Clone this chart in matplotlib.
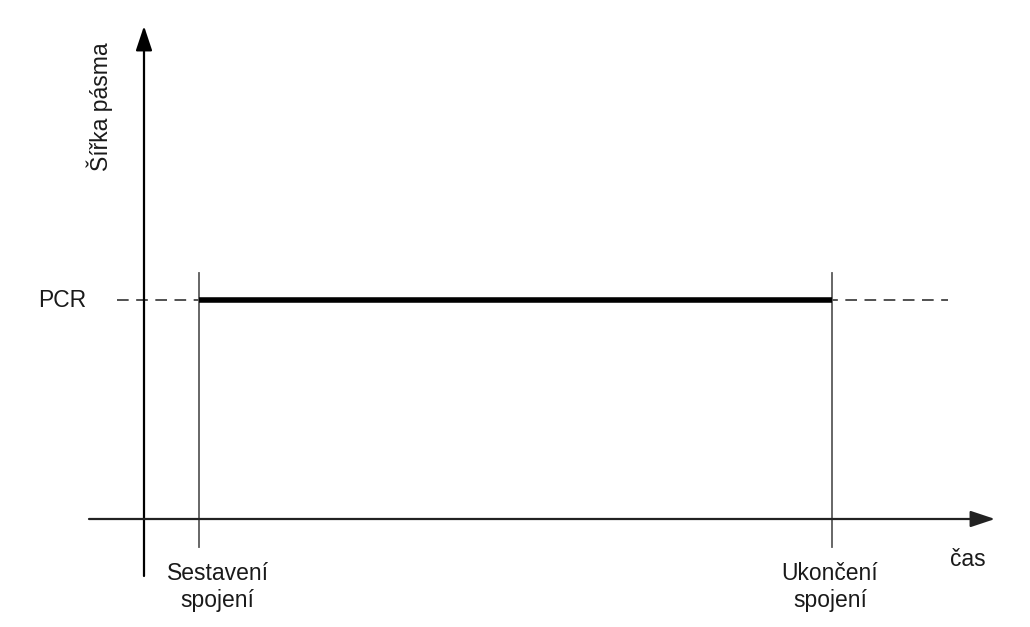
import matplotlib
matplotlib.use("Agg")
import matplotlib.pyplot as plt

# ---- data ----
events = ["Sestavení\nspojení", "Ukončení\nspojení"]
event_times = [1.0, 12.5]          # time units
pcr_level = 1.0                     # bandwidth units
level_label = "PCR"
x_label = "čas"
y_label = "Šířka pásma"

plt.rcParams['font.family'] = ['Liberation Sans', 'DejaVu Sans']

W, H = 1030, 627
fig = plt.figure(figsize=(W / 100, H / 100), dpi=100)
ax = fig.add_axes([0, 0, 1, 1])

# scale: 55 px per time unit, 219 px per bandwidth unit; origin at px (144, 519)
px_x, px_y = 55.0, 219.0
ox, oy = 144.0, 519.0
ax.set_xlim(-ox / px_x, (W - ox) / px_x)
ax.set_ylim(-(H - oy) / px_y, oy / px_y)
ax.axis('off')

def X(px):
    return (px - ox) / px_x

def Y(py):
    return (oy - py) / px_y

arrow = dict(arrowstyle='-|>,head_length=1.5,head_width=0.5', lw=1.6,
             color='black', shrinkA=0, shrinkB=0)

# y axis
ax.annotate('', xy=(0, Y(26)), xytext=(0, Y(576)), arrowprops=arrow)
# x axis
ax.annotate('', xy=(X(995), 0), xytext=(X(89), 0),
            arrowprops=dict(arrow, color='#222222'))

# dashed PCR level
ax.plot([X(117), X(948)], [pcr_level, pcr_level], color='#333333', lw=1.2,
        dashes=(7, 4.5))

# event vertical lines
for t in event_times:
    ax.plot([t, t], [Y(273), Y(547)], color='#5a5a5a', lw=1.3)

# thick reservation line
ax.plot(event_times, [pcr_level, pcr_level], color='black', lw=4.0,
        solid_capstyle='butt')

fs = 16.5
tc = '#1a1a1a'
ax.text(X(62), pcr_level, level_label, ha='center', va='center', fontsize=fs, color=tc)
ax.text(X(100), Y(107), y_label, ha='center', va='center', rotation=90,
        fontsize=fs, color=tc)
ax.text(X(968), Y(560), x_label, ha='center', va='center', fontsize=fs, color=tc)
label_offsets_px = [18.5, -1.5]
for t, lab, off in zip(event_times, events, label_offsets_px):
    ax.text(t + off / px_x, Y(587), lab, ha='center', va='center',
            fontsize=fs, linespacing=1.2, color=tc)

fig.savefig('out.png', dpi=100, facecolor='white')
